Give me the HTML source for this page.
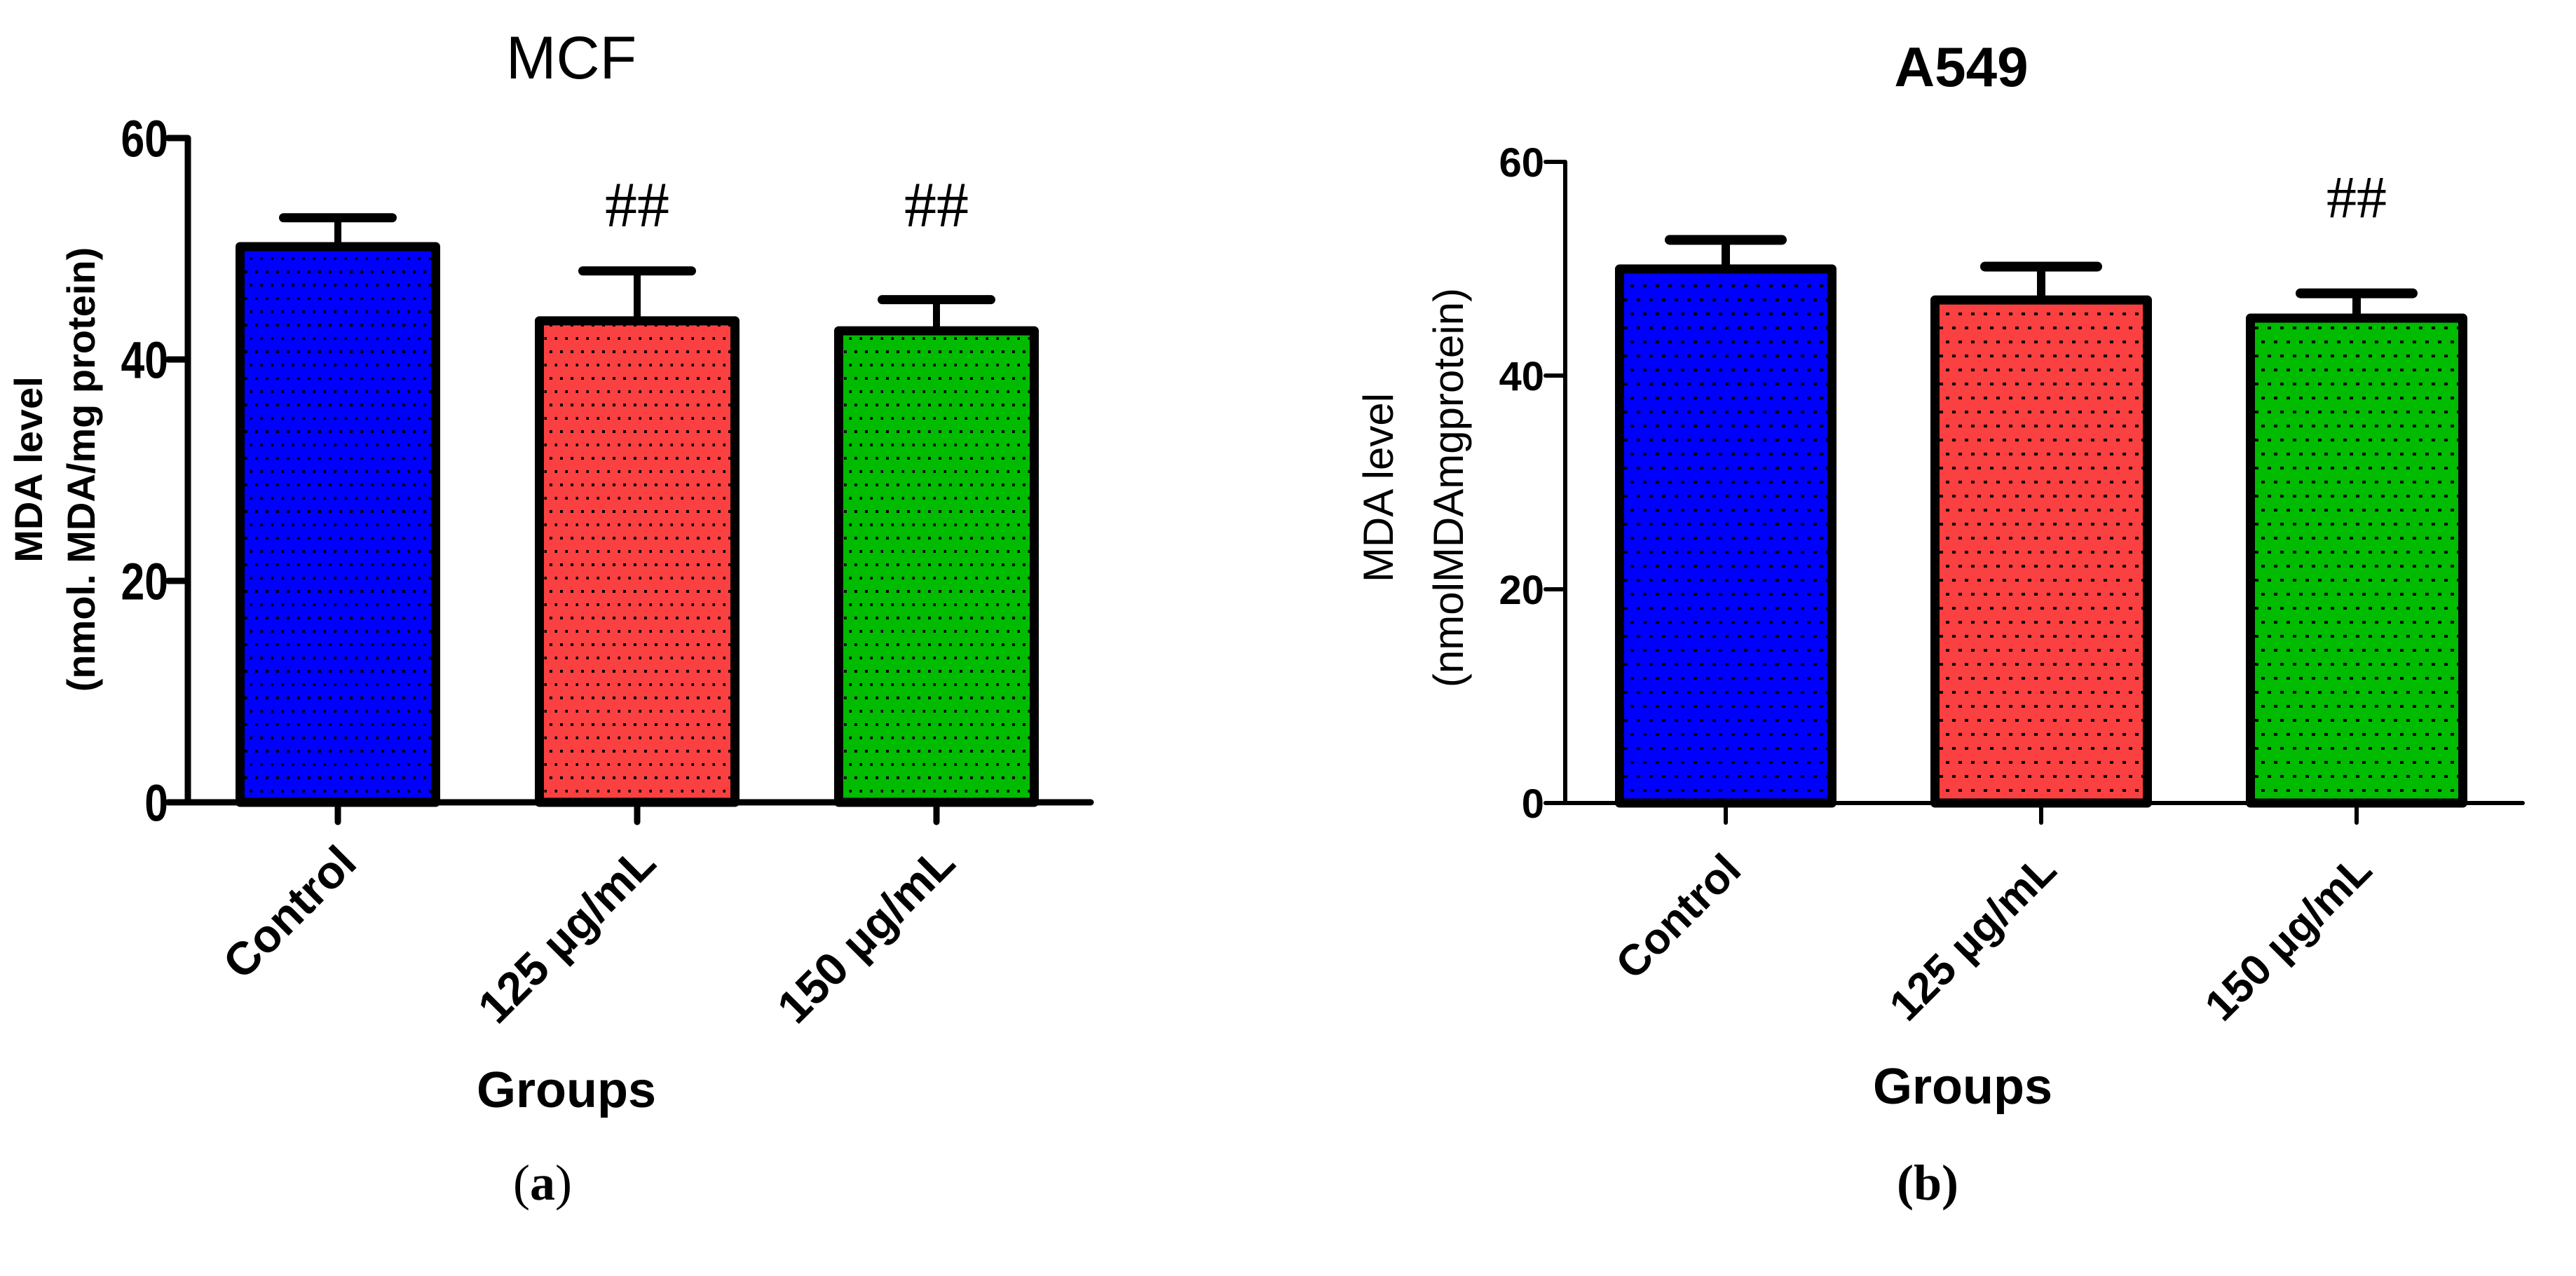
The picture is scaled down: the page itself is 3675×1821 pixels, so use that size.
<!DOCTYPE html>
<html><head><meta charset="utf-8"><style>
html,body{margin:0;padding:0;background:#fff;}
svg{display:block;}
text{font-family:"Liberation Sans",Arial,sans-serif;}
</style></head><body>
<svg id="fig" width="3675" height="1821" viewBox="0 0 3675 1821" xmlns="http://www.w3.org/2000/svg">
<defs>
<pattern id="dotsA" patternUnits="userSpaceOnUse" width="15" height="38" x="0" y="0">
<rect x="4" y="6" width="4" height="4" fill="#000"/><rect x="11.5" y="25" width="4" height="4" fill="#000"/>
</pattern>
<pattern id="dotsB" patternUnits="userSpaceOnUse" width="18" height="40" x="0" y="0">
<rect x="4" y="6" width="5" height="4" fill="#000"/><rect x="13" y="26" width="5" height="4" fill="#000"/>
</pattern>
</defs>
<g id="panelA"></g>
<g id="panelB"></g>
</svg>
<script>
const categories = ["Control", "125 µg/mL", "150 µg/mL"];
const mcfValues = [50.6, 43.9, 43.0];
const mcfErrors = [2.2, 4.1, 2.4];
const mcfMarks = ["", "##", "##"];
const a549Values = [50.4, 47.5, 45.8];
const a549Errors = [2.3, 2.7, 1.9];
const a549Marks = ["", "", "##"];
const yTicks = [0, 20, 40, 60];
const barColors = ["#0000ff", "#fa4040", "#00bb00"];

const NS = "http://www.w3.org/2000/svg";
function mk(parent, tag, attrs, txt){
  const e = document.createElementNS(NS, tag);
  for (const k in attrs) e.setAttribute(k, attrs[k]);
  if (txt !== undefined) e.textContent = txt;
  parent.appendChild(e);
  return e;
}

function drawPanel(g, cfg, values, errors, marks){
  const y = v => cfg.y0 - (v / 60) * (cfg.y0 - cfg.y60);
  const x = i => cfg.c0 + i * cfg.step;
  values.forEach((v, i) => {
    const cx = x(i), half = cfg.bw / 2, bw = cfg.border;
    const top = y(v) + bw / 2;
    const eb = mk(g, "g", {});
    
    
    mk(eb, "line", {x1: cx, x2: cx, y1: y(v + errors[i]), y2: top, stroke: "#000", "stroke-width": cfg.errW});
    mk(eb, "line", {x1: cx - cfg.capW / 2, x2: cx + cfg.capW / 2, y1: y(v + errors[i]), y2: y(v + errors[i]), stroke: "#000", "stroke-width": cfg.capT, "stroke-linecap": "round"});
    const bar = mk(g, "g", {});
    
    
    const rx = cx - half + bw / 2, rw = cfg.bw - bw, rh = cfg.y0 - top;
    mk(bar, "rect", {x: rx, y: top, width: rw, height: rh, fill: barColors[i]});
    mk(bar, "rect", {x: rx, y: top, width: rw, height: rh, fill: "url(#" + cfg.pat + ")"});
    mk(bar, "rect", {x: rx, y: top, width: rw, height: rh, fill: "none", stroke: "#000", "stroke-width": bw, "stroke-linejoin": "round"});
    if (marks[i]) {
      const m = mk(g, "text", {x: cx, y: cfg.markY, "text-anchor": "middle", "font-size": cfg.markSize, style: "font-family:'Liberation Serif',serif"}, marks[i]);
      
      
    }
    mk(g, "line", {x1: cx, x2: cx, y1: cfg.y0, y2: cfg.y0 + 28, stroke: "#000", "stroke-width": cfg.axisW, "stroke-linecap": "round"});
    const lx = cx + cfg.lblDx, ly = cfg.lblY;
    const t = mk(g, "text", {x: lx, y: ly, "text-anchor": "end", "font-size": cfg.catSize, "font-weight": "bold", transform: "rotate(-45 " + lx + " " + ly + ")"}, categories[i]);
    
    
  });
  mk(g, "line", {x1: cfg.ax, x2: cfg.ax, y1: cfg.y60, y2: cfg.y0, stroke: "#000", "stroke-width": cfg.axisW});
  mk(g, "line", {x1: cfg.ax - 28, x2: cfg.xEnd, y1: cfg.y0, y2: cfg.y0, stroke: "#000", "stroke-width": cfg.axisW, "stroke-linecap": "round"});
  yTicks.forEach(v => {
    mk(g, "line", {x1: cfg.ax - 28, x2: cfg.ax, y1: y(v), y2: y(v), stroke: "#000", "stroke-width": cfg.axisW, "stroke-linecap": "round"});
    const lx = cfg.tickRight;
    const t = mk(g, "text", {x: lx, y: y(v) + cfg.tickSize * 0.36, "text-anchor": "end", "font-size": cfg.tickSize, "font-weight": "bold", transform: cfg.tickSqueeze ? "translate(" + lx + " 0) scale(0.82 1) translate(" + (-lx) + " 0)" : ""}, String(v));
    
    
  });
}

const A = document.getElementById("panelA");
drawPanel(A, {y0: 1145, y60: 197, c0: 482, step: 427, bw: 292, border: 13, ax: 268, xEnd: 1556, axisW: 9, errW: 10, capW: 155, capT: 13, pat: "dotsA", markY: 323, markSize: 92, lblDx: 30, lblY: 1235, catSize: 66, tickRight: 240, tickSize: 74, tickSqueeze: true}, mcfValues, mcfErrors, mcfMarks);
const B = document.getElementById("panelB");
drawPanel(B, {y0: 1146, y60: 231, c0: 2462, step: 450, bw: 316, border: 13, ax: 2233, xEnd: 3599, axisW: 6, errW: 12, capW: 160, capT: 14, pat: "dotsB", markY: 310, markSize: 86, lblDx: 25, lblY: 1245, catSize: 62, tickRight: 2203, tickSize: 58, tickSqueeze: false}, a549Values, a549Errors, a549Marks);

function label(parent, name, attrs, txt){
  const t = mk(parent, "text", attrs, txt);
  
  
  return t;
}
label(A, "chart-title", {x: 815, y: 112, "text-anchor": "middle", "font-size": 86}, "MCF");
label(A, "y-axis-title-line1", {x: 60, y: 670, "text-anchor": "middle", "font-size": 56, "font-weight": "bold", transform: "rotate(-90 60 670)"}, "MDA level");
label(A, "y-axis-title-line2", {x: 135, y: 670, "text-anchor": "middle", "font-size": 56, "font-weight": "bold", transform: "rotate(-90 135 670)"}, "(nmol. MDA/mg protein)");
label(A, "x-axis-title", {x: 808, y: 1580, "text-anchor": "middle", "font-size": 72, "font-weight": "bold"}, "Groups");
const pa = label(A, "panel-label-a", {x: 774, y: 1712, "text-anchor": "middle", "font-size": 72, style: "font-family:'Liberation Serif',serif"}, "(");
const pas = mk(pa, "tspan", {"font-weight": "bold"}, "a");
mk(pa, "tspan", {}, ")");

label(B, "chart-title", {x: 2798, y: 123, "text-anchor": "middle", "font-size": 80, "font-weight": "bold"}, "A549");
label(B, "y-axis-title-line1", {x: 1987, y: 696, "text-anchor": "middle", "font-size": 60, transform: "rotate(-90 1987 696)"}, "MDA level");
label(B, "y-axis-title-line2", {x: 2087, y: 696, "text-anchor": "middle", "font-size": 60, transform: "rotate(-90 2087 696)"}, "(nmolMDAmgprotein)");
label(B, "x-axis-title", {x: 2800, y: 1575, "text-anchor": "middle", "font-size": 72, "font-weight": "bold"}, "Groups");
label(B, "panel-label-b", {x: 2750, y: 1712, "text-anchor": "middle", "font-size": 72, "font-weight": "bold", style: "font-family:'Liberation Serif',serif"}, "(b)");
</script>
</body></html>
